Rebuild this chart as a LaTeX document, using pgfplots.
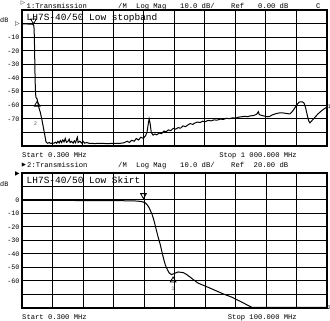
\documentclass[border=0pt]{standalone}
\usepackage{fontspec}
\setmainfont{Liberation Mono}
\setmonofont{Liberation Mono}
\newfontfamily\sym{DejaVu Sans}
\usepackage{pgfplots}
\pgfplotsset{compat=1.18}
\pgfplotsset{
  vna/.style={
    scale only axis, width=305bp,
    xticklabels={},
    major tick length=0pt,
    grid=major,
    grid style={black, line width=1bp},
    axis line style={black, line width=1.2bp},
    clip=false,
    yticklabel style={font=\fontsize{6.8}{7}\selectfont, xshift=1bp},
    every axis plot/.append style={black, line width=1bp},
  }
}
\newcommand{\hdr}{\fontsize{7.2}{8}\selectfont}
\begin{document}
\begin{tikzpicture}
\path[use as bounding box] (0bp,0bp) rectangle (330bp,321bp);
% ---------------- top chart ----------------
\begin{axis}[vna,
  at={(22bp,175bp)}, anchor=south west, height=136bp,
  xmin=0.3, xmax=1000, ymin=-90, ymax=10,
  xtick={100.27,200.24,300.21,400.18,500.15,600.12,700.09,800.06,900.03},
  ytick={-80,-70,...,0},
  yticklabels={,-70,-60,-50,-40,-30,-20,-10,},
]
\addplot[sharp plot] coordinates {
(0.3,-0.2)(20,-0.3)(36,-0.5)(39,-1.5)(40,-4)(41,-12)(42,-25)(43,-38)(44,-47)(45,-52)(46,-54)(48,-55)(50,-55.5)(52,-58)(56,-62)(60,-65)(65,-70)(70,-76)(75,-82)(79,-87)(84,-88)(90,-87.5)(95,-88.2)(100,-87.6)(105,-88)(110,-87.2)(114,-88)(118,-86.5)(122,-87.8)(126,-86)(130,-87.5)(134,-85.5)(138,-87)(142,-84.5)(146,-87.3)(150,-86.8)(155,-85)(158,-87.5)(163,-86.6)(168,-87.9)(172,-86.2)(176,-87.6)(180,-84.5)(182,-83.5)(184,-87.4)(190,-86.5)(196,-87.8)(200,-86.4)(206,-88)(212,-87.4)(220,-88)(240,-88.2)(260,-88)(280,-88.3)(300,-88)(320,-88.1)(335,-87.6)(345,-86.5)(352,-87.4)(360,-85.8)(368,-86.5)(375,-84.5)(382,-85.6)(390,-83.5)(398,-84.4)(405,-82.5)(410,-80)(414,-74)(417,-70)(420,-73)(424,-80)(430,-82)(436,-81.2)(442,-81.8)(450,-80.5)(458,-80.9)(466,-79)(472,-79.6)(480,-78.2)(488,-78.7)(496,-77)(504,-77.6)(512,-76.5)(520,-76.9)(528,-75.2)(536,-75.8)(544,-74.5)(552,-73.5)(560,-74.1)(568,-73)(576,-72.4)(584,-72.8)(592,-71.8)(600,-72.2)(610,-71.2)(620,-71.5)(630,-70.8)(640,-71)(650,-70.2)(660,-70.5)(670,-69.6)(680,-69.9)(690,-69.3)(700,-69.5)(710,-68.8)(720,-68.5)(730,-68.2)(740,-68.4)(750,-67.8)(760,-67.6)(770,-66.5)(775,-64.8)(778,-66.9)(785,-67.5)(795,-68)(805,-68.5)(812,-68.3)(820,-67.2)(830,-66.4)(840,-65.8)(850,-65.6)(860,-65.8)(870,-66.2)(878,-66.4)(884,-65.2)(890,-63.5)(896,-61.5)(902,-59.5)(908,-57.8)(914,-57.5)(920,-57.6)(925,-58.5)(930,-62)(935,-67)(940,-71.5)(944,-73)(950,-71.5)(960,-69)(970,-66.5)(980,-64.5)(990,-62.8)(1000,-61.3)
};
\addplot[only marks, mark=triangle, mark size=3.3bp, mark options={line width=0.8bp}] coordinates {(50,-59.5)};
\addplot[only marks, mark=triangle, mark size=3.3bp, mark options={line width=0.8bp, rotate=180}] coordinates {(38,2.2)};
\node[anchor=base west, font=\fontsize{9.5}{10}\selectfont] at (rel axis cs:0.004,0.925) {LH7S-40/50 Low stopband};
\node[font=\fontsize{5.5}{6}\selectfont, text=black!60] at (axis cs:45,-73.5) {2};
\node[anchor=west, inner sep=0.5bp, font=\fontsize{5.5}{6}\selectfont] at (axis cs:1000,-61.3) {1};
\end{axis}
% ---------------- bottom chart ----------------
\begin{axis}[vna,
  at={(22bp,13bp)}, anchor=south west, height=135bp,
  xmin=0.3, xmax=100, ymin=-80, ymax=20,
  xtick={10.27,20.24,30.21,40.18,50.15,60.12,70.09,80.06,90.03},
  ytick={-70,-60,...,10},
  yticklabels={,-60,-50,-40,-30,-20,-10,0,},
]
\addplot[sharp plot] coordinates {
(0.3,-0.3)(10,-0.3)(20,-0.4)(30,-0.5)(36,-0.6)(38,-0.8)(39.5,-1.2)(40.5,-2)(41.2,-3.5)(41.8,-5.5)(42.3,-8)(42.8,-10.5)(43.3,-14)(43.8,-18.5)(44.3,-23)(44.8,-27.5)(45.5,-33)(46.1,-39)(46.7,-44.5)(47.2,-48.5)(47.8,-51.5)(48.4,-54)(49.2,-55.3)(50,-54.5)(51.3,-53.3)(53,-53.8)(54,-55)(57.8,-61.5)(62,-65.5)(66,-69.5)(68.9,-72)(72,-75.5)(75.5,-79.6)(100,-79.6)
};
\addplot[only marks, mark=triangle, mark size=3.3bp, mark options={line width=0.8bp}] coordinates {(49.7,-59.5)};
\addplot[only marks, mark=triangle, mark size=3.3bp, mark options={line width=0.8bp, rotate=180}] coordinates {(40,3.5)};
\node[anchor=base west, font=\fontsize{9.5}{10}\selectfont] at (rel axis cs:0.004,0.925) {LH7S-40/50 Low Skirt};
\node[font=\fontsize{5.5}{6}\selectfont, text=black!60] at (axis cs:49.7,-66) {1};
\node[anchor=west, inner sep=0.5bp, font=\fontsize{5.5}{6}\selectfont] at (axis cs:100,-80) {2};
\end{axis}
% ---------------- annotations ----------------
% top header
\node[font=\sym\fontsize{5.5}{6}\selectfont, inner sep=0pt] at (23bp,317.5bp) {▷};
\node[anchor=base west, inner sep=0pt, font=\hdr] at (26.5bp,312.7bp) {1:Transmission};
\node[anchor=base west, inner sep=0pt, font=\hdr] at (118bp,312.7bp) {/M};
\node[anchor=base west, inner sep=0pt, font=\hdr] at (136bp,312.7bp) {Log Mag};
\node[anchor=base west, inner sep=0pt, font=\hdr] at (180bp,312.7bp) {10.0 dB/};
\node[anchor=base west, inner sep=0pt, font=\hdr] at (231bp,312.7bp) {Ref};
\node[anchor=base west, inner sep=0pt, font=\hdr] at (258bp,312.7bp) {0.00 dB};
\node[anchor=base west, inner sep=0pt, font=\hdr] at (316bp,312.7bp) {C};
\node[anchor=west, inner sep=0pt, font=\fontsize{6.8}{7}\selectfont] at (0bp,300.5bp) {dB};
\node[font=\sym\fontsize{6}{6}\selectfont, inner sep=0pt] at (17.5bp,297bp) {▷};
\node[anchor=base west, inner sep=0pt, font=\hdr] at (22bp,163.5bp) {Start 0.300 MHz};
\node[anchor=base east, inner sep=0pt, font=\hdr] at (297bp,163.5bp) {Stop 1 000.000 MHz};
% bottom header
\node[font=\sym\fontsize{5.5}{6}\selectfont, inner sep=0pt] at (24bp,156bp) {▶};
\node[anchor=base west, inner sep=0pt, font=\hdr] at (27bp,153bp) {2:Transmission};
\node[anchor=base west, inner sep=0pt, font=\hdr] at (118bp,153bp) {/M};
\node[anchor=base west, inner sep=0pt, font=\hdr] at (136bp,153bp) {Log Mag};
\node[anchor=base west, inner sep=0pt, font=\hdr] at (180bp,153bp) {10.0 dB/};
\node[anchor=base west, inner sep=0pt, font=\hdr] at (231bp,153bp) {Ref};
\node[anchor=base west, inner sep=0pt, font=\hdr] at (253.5bp,153bp) {20.00 dB};
\node[anchor=west, inner sep=0pt, font=\fontsize{6.8}{7}\selectfont] at (0bp,136.5bp) {dB};
\node[font=\sym\fontsize{6}{6}\selectfont, inner sep=0pt] at (17.5bp,147bp) {▶};
\node[anchor=base west, inner sep=0pt, font=\hdr] at (22bp,1.5bp) {Start 0.300 MHz};
\node[anchor=base east, inner sep=0pt, font=\hdr] at (297bp,1.5bp) {Stop 100.000 MHz};
\end{tikzpicture}
\end{document}
